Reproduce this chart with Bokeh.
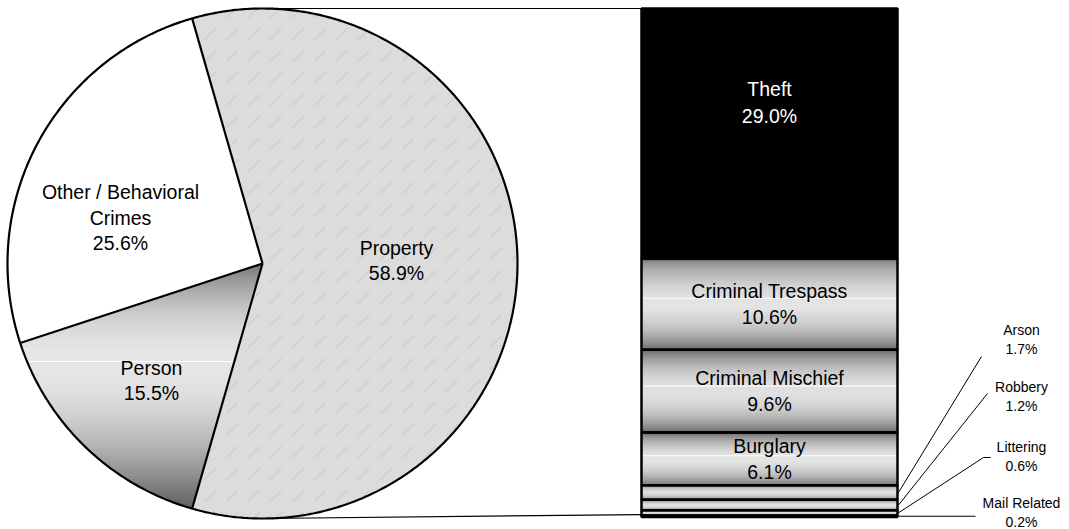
import numpy as np
from bokeh.plotting import figure
from bokeh.models import Range1d
from bokeh.embed import file_html
from bokeh.resources import INLINE
from bokeh.core.properties import value

# ---------------- data ----------------
pie_names = ["Property", "Other / Behavioral Crimes", "Person"]
pie_label_lines = [["Property"], ["Other / Behavioral", "Crimes"], ["Person"]]
pie_values = [58.9, 25.6, 15.5]

bar_names = ["Theft", "Criminal Trespass", "Criminal Mischief", "Burglary",
             "Arson", "Robbery", "Littering", "Mail Related"]
bar_values = [29.0, 10.6, 9.6, 6.1, 1.7, 1.2, 0.6, 0.2]

# ---------------- layout (picture pixels) ----------------
W, H = 1069, 529
FONT = "Liberation Sans"
cx, cy, R = 262.0, 263.0, 255.0
bx0, bx1, btop, bbot = 641.0, 897.0, 8.0, 516.6

pie_label_pos = [(396, 260), (120, 217), (151, 380)]
small_label_x = 1021
small_label_y = {"Arson": 339, "Robbery": 396, "Littering": 456, "Mail Related": 512}
leader_end = {"Arson": [(981, 356)], "Robbery": [(987, 393)],
              "Littering": [(983, 457), (990, 457)], "Mail Related": [(975, None)]}

p = figure(width=W, height=H, x_range=Range1d(0, W), y_range=Range1d(H, 0),
           output_backend="svg", toolbar_location=None, min_border=0,
           x_axis_type=None, y_axis_type=None)
p.outline_line_color = None
p.grid.visible = False
p.background_fill_color = "white"
p.border_fill_color = "white"


def gray(v):
    v = int(max(0, min(255, round(v))))
    return "#%02x%02x%02x" % (v, v, v)


def clip_band(poly, y0, y1):
    def clip_half(pts, keep, yc):
        out = []
        n = len(pts)
        for i in range(n):
            cur, prev = pts[i], pts[i - 1]
            def ix(a, b):
                t = (yc - a[1]) / (b[1] - a[1])
                return (a[0] + t * (b[0] - a[0]), yc)
            if keep(cur):
                if not keep(prev):
                    out.append(ix(prev, cur))
                out.append(cur)
            elif keep(prev):
                out.append(ix(prev, cur))
        return out
    pts = clip_half(poly, lambda q: q[1] >= y0, y0)
    if pts:
        pts = clip_half(pts, lambda q: q[1] <= y1, y1)
    return pts


# ---------------- pie ----------------
total = sum(pie_values)
start = -pie_values[0] / total * 360.0 / 2.0
angles = []
a = start
for v in pie_values:
    a1 = a + v / total * 360.0
    angles.append((a, a1))
    a = a1


def wedge_poly(a0, a1, n=240):
    th = np.radians(np.linspace(a0, a1, n))
    xs = cx + R * np.cos(th)
    ys = cy - R * np.sin(th)
    return [(cx, cy)] + list(zip(xs, ys))


polys = [wedge_poly(a0, a1) for a0, a1 in angles]

# Property: light marble-like gray
pp = polys[0]
p.patch([q[0] for q in pp], [q[1] for q in pp], fill_color="#dcdcdc", line_color=None,
        hatch_pattern="right_diagonal_dash", hatch_color="#b0b0b0", hatch_alpha=0.35,
        hatch_scale=22, hatch_weight=1.2)
# Other: white
po = polys[1]
p.patch([q[0] for q in po], [q[1] for q in po], fill_color="white", line_color=None)
# Person: vertical gradient dark-light-dark
pr = polys[2]
ys_all = [q[1] for q in pr]
ytop, ybot = min(ys_all), max(ys_all)
ypeak = ytop + 0.40 * (ybot - ytop)
bxs, bys, bcs = [], [], []
step = 2.0
y = ytop
while y < ybot:
    ym = y + step / 2
    if ym <= ypeak:
        t = (ym - ytop) / (ypeak - ytop)
        f = np.sin(np.pi / 2 * t) ** 0.8
        c = 112 + (230 - 112) * f
    else:
        t = (ybot - ym) / (ybot - ypeak)
        f = np.sin(np.pi / 2 * t) ** 1.0
        c = 96 + (230 - 96) * f
    band = clip_band(pr, y, y + step + 0.6)
    if len(band) >= 3:
        bxs.append([q[0] for q in band])
        bys.append([q[1] for q in band])
        bcs.append(gray(c))
    y += step
band = clip_band(pr, ypeak - 0.5, ypeak + 0.5)
if len(band) >= 3:
    bxs.append([q[0] for q in band]); bys.append([q[1] for q in band]); bcs.append("#ffffff")
p.patches(bxs, bys, fill_color=bcs, line_color=None)

# outlines
th = np.radians(np.linspace(0, 360, 720))
p.line(cx + R * np.cos(th), cy - R * np.sin(th), line_color="black", line_width=2.2)
for a0, a1 in angles:
    t0 = np.radians(a0)
    p.line([cx, cx + R * np.cos(t0)], [cy, cy - R * np.sin(t0)], line_color="black", line_width=2.2)

# pie labels
for lines, v, (lx, ly) in zip(pie_label_lines, pie_values, pie_label_pos):
    all_lines = lines + [f"{v:.1f}%"]
    n = len(all_lines)
    for i, s in enumerate(all_lines):
        p.text(x=[lx], y=[ly + (i - (n - 1) / 2) * 25.5], text=[s], text_align="center",
               text_baseline="middle", text_font=value(FONT), text_font_size="19.5px",
               text_color="black")

# ---------------- bar ----------------
btotal = sum(bar_values)
scale = (bbot - btop) / btotal
seg = []
yy = btop
for v in bar_values:
    seg.append((yy, yy + v * scale))
    yy += v * scale

ql, qr, qt, qb, qc = [], [], [], [], []
for i, (s0, s1) in enumerate(seg):
    if i == 0:
        ql.append(bx0); qr.append(bx1); qt.append(s0); qb.append(s1); qc.append("black")
        continue
    hseg = s1 - s0
    nb = max(3, int(np.ceil(hseg)))
    edges = np.linspace(s0, s1, nb + 1)
    for j in range(nb):
        t = (j + 0.5) / nb
        f = np.sin(np.pi * t) ** 0.7
        c = 96 + (224 - 96) * f
        ql.append(bx0); qr.append(bx1); qt.append(edges[j]); qb.append(edges[j + 1] + 0.4)
        qc.append(gray(c))
    if hseg > 40:
        yl = s0 + 0.43 * hseg
        ql.append(bx0); qr.append(bx1); qt.append(yl); qb.append(yl + 1); qc.append("#ffffff")
p.quad(left=ql, right=qr, top=qt, bottom=qb, fill_color=qc, line_color=None)

# segment borders
p.quad(left=[bx0] * len(seg), right=[bx1] * len(seg), top=[s[0] for s in seg],
       bottom=[s[1] for s in seg], fill_color=None, line_color="black", line_width=2.5)

# bar labels
bar_cx = (bx0 + bx1) / 2
for i, (name, v, (s0, s1)) in enumerate(zip(bar_names, bar_values, seg)):
    if s1 - s0 < 30:
        continue
    ymid = (s0 + s1) / 2
    if i == 0:
        ymid -= 31
    col = "white" if i == 0 else "black"
    for k, s in enumerate([name, f"{v:.1f}%"]):
        p.text(x=[bar_cx], y=[ymid + (k - 0.5) * 26.5], text=[s], text_align="center",
               text_baseline="middle", text_font=value(FONT), text_font_size="19.5px",
               text_color=col)

# small labels with leader lines
for name, v, (s0, s1) in zip(bar_names, bar_values, seg):
    if name not in small_label_y:
        continue
    ly = small_label_y[name]
    for k, s in enumerate([name, f"{v:.1f}%"]):
        p.text(x=[small_label_x], y=[ly + (k - 0.5) * 19.5], text=[s], text_align="center",
               text_baseline="middle", text_font=value(FONT), text_font_size="14px",
               text_color="black")
    ymid = (s0 + s1) / 2
    xs_l = [bx1 + 1]
    ys_l = [ymid]
    for (ex, ey) in leader_end[name]:
        xs_l.append(ex)
        ys_l.append(ymid if ey is None else ey)
    p.line(xs_l, ys_l, line_color="black", line_width=1)

# connector lines from pie to bar
p.line([cx, bx0], [cy - R, btop], line_color="black", line_width=1.2)
p.line([cx, bx0], [cy + R, bbot - 2.5], line_color="black", line_width=1.2)

open("out.html", "w").write(file_html(p, INLINE))
